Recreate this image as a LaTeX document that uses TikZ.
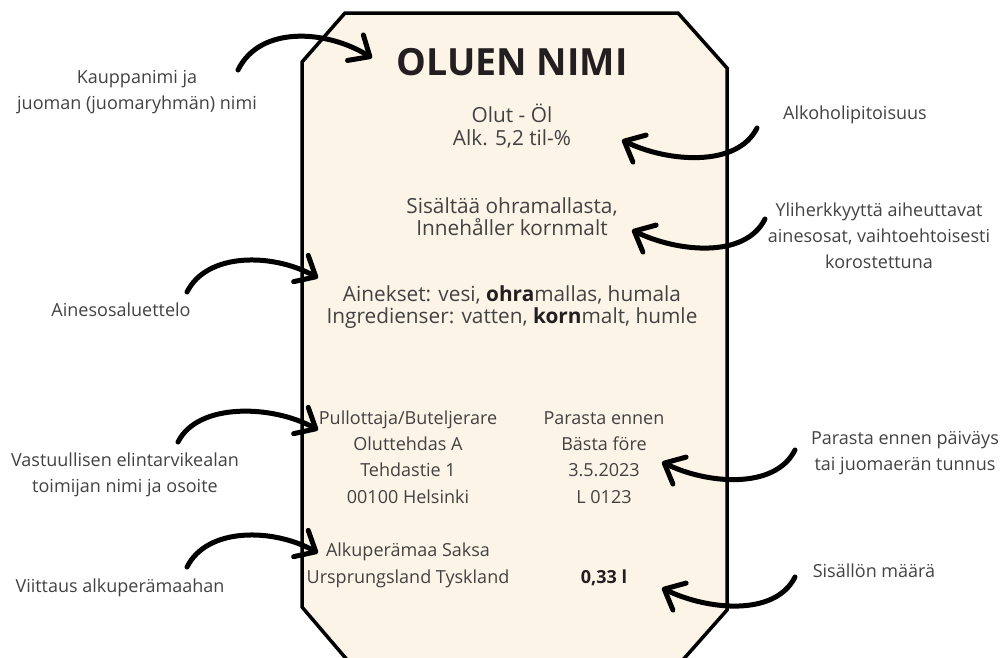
\documentclass[tikz,border=0pt]{standalone}
\usepackage{fontspec}
\setmainfont{Open Sans}
\usetikzlibrary{arrows.meta, positioning}
\definecolor{labelcream}{HTML}{FDF4E8}
\definecolor{textgray}{HTML}{424242}
\definecolor{titledark}{HTML}{231F20}
\newcommand{\strongpart}[1]{\textcolor{titledark}{\bfseries #1}}

\begin{document}
\begin{tikzpicture}[x=1pt, y=-1pt,
  titletext/.style={font=\fontsize{37.5}{40}\selectfont\bfseries, text=titledark, anchor=base},
  labeltext/.style={font=\fontsize{20.8}{22.3}\selectfont, text=textgray, align=center, anchor=base},
  columntext/.style={font=\fontsize{18}{26.3}\selectfont, text=textgray, align=center, anchor=base},
  sidetext/.style={font=\fontsize{18}{26}\selectfont, text=textgray, align=center, anchor=base},
  labelbody/.style={draw=black, fill=labelcream, line width=3.5pt, line join=miter},
  pointer/.style={-{Straight Barb[round, length=17pt, width=30pt]}, line width=5pt, draw=black, line cap=round}
]
  \useasboundingbox (0,0) rectangle (1004,657);

  % Label outline
  \draw[labelbody] (349,662) -- (302,607) -- (302,62) -- (345,13) -- (678,13)
    -- (727,68) -- (727,610) -- (681,662);

  % Title
  \node[titletext] (title) at (512,75) {OLUEN NIMI};

  % Label contents (anchored at the last baseline)
  \node[labeltext] (strength) at (512,145) {Olut - Öl\\Alk. 5,2 til-\%};
  \node[labeltext] (allergen) at (512,235.5) {Sisältää ohramallasta,\\Innehåller kornmalt};
  \node[labeltext] (ingredients) at (512,323.5) {Ainekset: vesi, \strongpart{ohra}mallas, humala\\Ingredienser: vatten, \strongpart{korn}malt, humle};
  \node[columntext] (bottler) at (408,503) {Pullottaja/Buteljerare\\Oluttehdas A\\Tehdastie 1\\00100 Helsinki};
  \node[columntext] (bestbefore) at (604,503) {Parasta ennen\\Bästa före\\3.5.2023\\L 0123};
  \node[columntext] (origin) at (408,583) {Alkuperämaa Saksa\\Ursprungsland Tyskland};
  \node[columntext] (volume) at (604,583) {\strongpart{0,33 l}};

  % Notes
  \node[sidetext] (brandnote) at (137,109) {Kauppanimi ja\\juoman (juomaryhmän) nimi};
  \node[sidetext] (listnote) at (121,316) {Ainesosaluettelo};
  \node[sidetext] (operatornote) at (125,492) {Vastuullisen elintarvikealan\\toimijan nimi ja osoite};
  \node[sidetext] (originnote) at (120,592) {Viittaus alkuperämaahan};
  \node[sidetext] (alcnote) at (855,119) {Alkoholipitoisuus};
  \node[sidetext] (allergennote) at (879,268) {Yliherkkyyttä aiheuttavat\\ainesosat, vaihtoehtoisesti\\korostettuna};
  \node[sidetext] (datenote) at (905,470) {Parasta ennen päiväys\\tai juomaerän tunnus};
  \node[sidetext] (volumenote) at (874,577) {Sisällön määrä};

  % Arrow ends
  \coordinate (brandtail) at (238,70);      \coordinate (brandtip) at (372,58);
  \coordinate (listtail) at (187,292);      \coordinate (listtip) at (318,278);
  \coordinate (operatortail) at (178,442);  \coordinate (operatortip) at (318,430);
  \coordinate (origintail) at (187,567);    \coordinate (origintip) at (318,553);
  \coordinate (alctail) at (757,128);       \coordinate (alctip) at (622,140);
  \coordinate (allergentail) at (765,219);  \coordinate (allergentip) at (632,230);
  \coordinate (datetail) at (795,450);      \coordinate (datetip) at (662,462);
  \coordinate (volumetail) at (795,577);    \coordinate (volumetip) at (662,588);

  % Arrows
  \draw[pointer] (brandtail) .. controls +(22,-45) and +(-45,-28) .. (brandtip);
  \draw[pointer] (listtail) .. controls +(20,-40) and +(-45,-25) .. (listtip);
  \draw[pointer] (operatortail) .. controls +(20,-40) and +(-45,-25) .. (operatortip);
  \draw[pointer] (origintail) .. controls +(20,-40) and +(-45,-25) .. (origintip);
  \draw[pointer] (alctail) .. controls +(-20,40) and +(45,22) .. (alctip);
  \draw[pointer] (allergentail) .. controls +(-20,40) and +(45,22) .. (allergentip);
  \draw[pointer] (datetail) .. controls +(-20,40) and +(45,22) .. (datetip);
  \draw[pointer] (volumetail) .. controls +(-20,40) and +(45,22) .. (volumetip);
\end{tikzpicture}
\end{document}
